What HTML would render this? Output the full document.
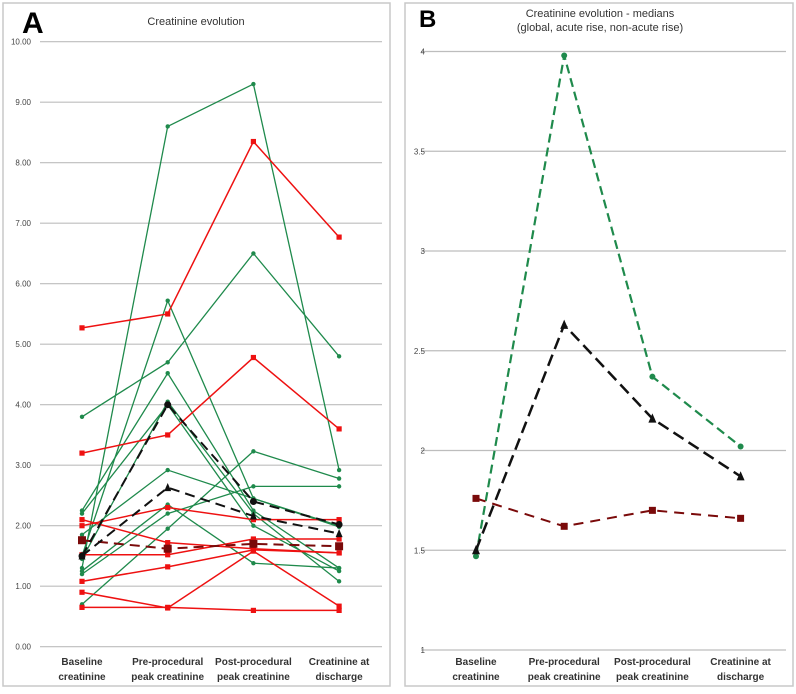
<!DOCTYPE html>
<html><head><meta charset="utf-8"><style>
body{margin:0;background:#fff;width:796px;height:689px;overflow:hidden;font-family:"Liberation Sans",sans-serif}
svg text{font-family:"Liberation Sans",sans-serif}
</style></head><body>
<svg id="chart" width="796" height="689">
<rect x="3" y="3" width="387" height="683" fill="#fff" stroke="#c8c8c8" stroke-width="1.5"/>
<rect x="405" y="3" width="388" height="683" fill="#fff" stroke="#c8c8c8" stroke-width="1.5"/>
<text x="22" y="33" font-size="30" font-weight="bold">A</text>
<text x="419" y="27" font-size="24" font-weight="bold">B</text>
<text x="196" y="25" font-size="11" text-anchor="middle" fill="#333">Creatinine evolution</text>
<text x="600" y="17" font-size="11" text-anchor="middle" fill="#333">Creatinine evolution - medians</text>
<text x="600" y="31" font-size="11" text-anchor="middle" fill="#333">(global, acute rise, non-acute rise)</text>
<g id="ga"></g><g id="gb"></g>
</svg>
<script>
const categories=["Baseline|creatinine","Pre-procedural|peak creatinine","Post-procedural|peak creatinine","Creatinine at|discharge"];
const ticksA=[0,1,2,3,4,5,6,7,8,9,10];
const ticksB=[1,1.5,2,2.5,3,3.5,4];
const redSeries=[[5.27,5.5,8.35,6.77],[3.2,3.5,4.78,3.6],[2.0,2.3,2.1,2.1],[2.1,1.72,1.62,1.55],[1.52,1.52,1.78,1.78],[1.08,1.32,1.6,1.55],[0.9,0.64,1.58,0.67],[0.65,0.65,0.6,0.6]];
const greenSeries=[[3.8,4.7,6.5,4.8],[1.3,8.6,9.3,2.92],[1.5,5.72,2.45,2.0],[2.25,4.52,2.25,1.3],[2.2,4.0,2.0,1.25],[1.85,2.92,2.45,1.98],[1.25,2.35,1.38,1.3],[0.7,1.95,3.23,2.78],[1.2,2.2,2.65,2.65],[1.45,4.05,2.2,1.08]];
const medAcute=[1.47,3.98,2.37,2.02];
const medGlobal=[1.5,2.63,2.16,1.87];
const medNonAcute=[1.76,1.62,1.70,1.66];
const NS="http://www.w3.org/2000/svg";
function mk(p,t,a){const e=document.createElementNS(NS,t);for(const k in a)e.setAttribute(k,a[k]);p.appendChild(e);return e;}
function panel(g,xs,yf,ticks,fmt,x0,x1,lx,catY){
 ticks.forEach(t=>{const l=mk(g,'line',{x1:x0,x2:x1,y1:yf(t),y2:yf(t),stroke:'#bdbdbd','stroke-width':1.2});
 
 const tx=mk(g,'text',{x:lx,y:yf(t)+3,'font-size':8,fill:'#444','text-anchor':'end'});tx.textContent=fmt(t);
 });
 categories.forEach((c,i)=>{c.split('|').forEach((s,j)=>{const t=mk(g,'text',{x:xs(i),y:catY+j*15,'font-size':10,'font-weight':'bold',fill:'#333','text-anchor':'middle'});t.textContent=s;
 });});
}
function series(g,vals,xs,yf,col,w,dash,marker,ms,name){
 const pts=vals.map((v,i)=>xs(i)+','+yf(v)).join(' ');
 const p=mk(g,'polyline',{points:pts,fill:'none',stroke:col,'stroke-width':w,'stroke-dasharray':dash||'none'});
 
 vals.forEach((v,i)=>{const x=xs(i),y=yf(v);let m;
  if(marker==='c')m=mk(g,'circle',{cx:x,cy:y,r:ms,fill:col});
  else if(marker==='s')m=mk(g,'rect',{x:x-ms,y:y-ms,width:2*ms,height:2*ms,fill:col});
  else m=mk(g,'polygon',{points:`${x},${y-ms*1.3} ${x-ms},${y+ms} ${x+ms},${y+ms}`,fill:col});
  });
}
const ga=document.getElementById('ga');
const xa=i=>82+i*85.7, ya=v=>646.7-v*60.5;
panel(ga,xa,ya,ticksA,t=>t.toFixed(2),40,382,31,665);
greenSeries.forEach(s=>series(ga,s,xa,ya,'#1f8a4c',1.3,null,'c',2.2,'patient-line-green'));
redSeries.forEach(s=>series(ga,s,xa,ya,'#ee1111',1.5,null,'s',2.6,'patient-line-red'));
series(ga,medNonAcute,xa,ya,'#7a0a0a',2,'10,6','s',4,'median-non-acute-a');
series(ga,[1.5,4.0,2.4,2.02],xa,ya,'#111',2,'10,6','c',3.5,'median-acute-a');
series(ga,medGlobal,xa,ya,'#111',2,'10,6','t',3.5,'median-global-a');
const gb=document.getElementById('gb');
const xb=i=>476+i*88.2, yb=v=>650-(v-1)*199.5;
panel(gb,xb,yb,ticksB,t=>String(t),421,786,425,665);
series(gb,medAcute,xb,yb,'#1f8a4c',2.2,'9,5','c',3,'median-acute-b');
series(gb,medGlobal,xb,yb,'#111',2.5,'12,6','t',4,'median-global-b');
series(gb,medNonAcute,xb,yb,'#7a0a0a',2,'10,7','s',3.5,'median-non-acute-b');
</script>
</body></html>
